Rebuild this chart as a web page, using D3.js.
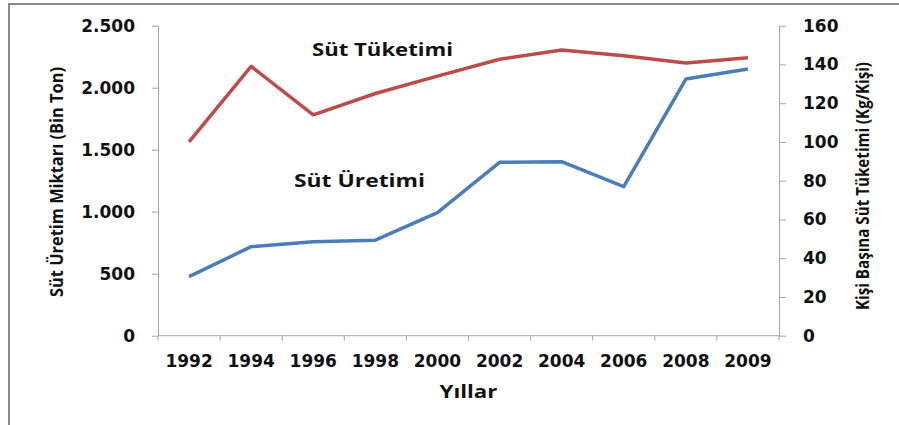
<!DOCTYPE html>
<html>
<head>
<meta charset="utf-8">
<script src="https://d3js.org/d3.v7.min.js"></script>
<style>
  body { margin: 0; background: #fff; }
  .tick text { font-family: "DejaVu Sans", Verdana, sans-serif; font-weight: bold; font-size: 17px; fill: #111; }
  .ttl { font-family: "Open Sans", "DejaVu Sans", sans-serif; font-weight: 700; fill: #111; }
</style>
</head>
<body>
<div id="chart"></div>
<script>
  // data
  var years = ["1992", "1994", "1996", "1998", "2000", "2002", "2004", "2006", "2008", "2009"];
  var uretim = [476, 718, 758, 770, 992, 1398, 1403, 1202, 2070, 2151];   // bin ton, left axis
  var tuketim = [100, 139, 114, 125, 134, 142.7, 147.5, 144.5, 140.8, 143.5]; // kg/kisi, right axis
  var leftTicks = [0, 500, 1000, 1500, 2000, 2500];
  var rightTicks = [0, 20, 40, 60, 80, 100, 120, 140, 160];

  var width = 899, height = 425;
  var m = { left: 158, right: 779, top: 25.7, bottom: 335.7 };

  var svg = d3.select("#chart").append("svg")
    .attr("width", width)
    .attr("height", height);

  // outer frame (cropped on the right and bottom)
  svg.append("rect")
    .attr("x", 9).attr("y", 4)
    .attr("width", 1000).attr("height", 1000)
    .attr("fill", "none")
    .attr("stroke", "#8a8a8a")
    .attr("stroke-width", 2);

  var x = d3.scaleBand().domain(years).range([m.left, m.right]).padding(0);
  var yL = d3.scaleLinear().domain([0, 2500]).range([m.bottom, m.top]);
  var yR = d3.scaleLinear().domain([0, 160]).range([m.bottom, m.top]);

  var trFmt = d3.formatLocale({ decimal: ",", thousands: ".", grouping: [3], currency: ["", ""] }).format(",");

  // left axis
  var gL = svg.append("g")
    .attr("transform", "translate(" + m.left + ",0)")
    .call(d3.axisLeft(yL).tickValues(leftTicks).tickFormat(trFmt).tickSize(6).tickSizeOuter(0).tickPadding(17));

  // right axis
  var gR = svg.append("g")
    .attr("transform", "translate(" + m.right + ",0)")
    .call(d3.axisRight(yR).tickValues(rightTicks).tickSize(7).tickSizeOuter(0).tickPadding(17));

  // bottom axis: labels at category centres, ticks between categories
  var gB = svg.append("g")
    .attr("transform", "translate(0," + m.bottom + ")")
    .call(d3.axisBottom(x).tickSize(0).tickPadding(19));
  gB.select(".domain").remove();

  var edges = d3.range(years.length + 1).map(function (i) { return m.left + i * x.bandwidth(); });
  svg.append("g").selectAll("line").data(edges).join("line")
    .attr("x1", function (d) { return d; }).attr("x2", function (d) { return d; })
    .attr("y1", m.bottom).attr("y2", m.bottom + 5)
    .attr("stroke", "#a6a6a6");
  svg.append("line")
    .attr("x1", m.left).attr("x2", m.right)
    .attr("y1", m.bottom).attr("y2", m.bottom)
    .attr("stroke", "#a6a6a6");

  svg.selectAll(".domain, .tick line").attr("stroke", "#a6a6a6");
  gB.selectAll(".tick text").attr("dy", "0.71em");

  // series
  var cx = function (d, i) { return x(years[i]) + x.bandwidth() / 2; };

  svg.append("path")
    .datum(uretim)
    .attr("fill", "none")
    .attr("stroke", "#4a7ebb")
    .attr("stroke-width", 3.5)
    .attr("stroke-linejoin", "round")
    .attr("d", d3.line().x(cx).y(function (d) { return yL(d); }));

  svg.append("path")
    .datum(tuketim)
    .attr("fill", "none")
    .attr("stroke", "#be4b48")
    .attr("stroke-width", 3.5)
    .attr("stroke-linejoin", "round")
    .attr("d", d3.line().x(cx).y(function (d) { return yR(d); }));

  // series labels
  svg.append("text").attr("class", "ttl")
    .attr("x", 312).attr("y", 56)
    .attr("font-size", 18)
    .attr("textLength", 141).attr("lengthAdjust", "spacingAndGlyphs")
    .text("Süt Tüketimi");

  svg.append("text").attr("class", "ttl")
    .attr("x", 294).attr("y", 187)
    .attr("font-size", 18)
    .attr("textLength", 131).attr("lengthAdjust", "spacingAndGlyphs")
    .text("Süt Üretimi");

  // axis titles
  svg.append("text").attr("class", "ttl")
    .attr("transform", "translate(63,182) rotate(-90)")
    .attr("text-anchor", "middle")
    .attr("font-size", 18)
    .attr("textLength", 230).attr("lengthAdjust", "spacingAndGlyphs")
    .text("Süt Üretim Miktarı (Bin Ton)");

  svg.append("text").attr("class", "ttl")
    .attr("transform", "translate(869,186) rotate(-90)")
    .attr("text-anchor", "middle")
    .attr("font-size", 18)
    .attr("textLength", 248).attr("lengthAdjust", "spacingAndGlyphs")
    .text("Kişi Başına Süt Tüketimi (Kg/Kişi)");

  svg.append("text").attr("class", "ttl")
    .attr("x", (m.left + m.right) / 2).attr("y", 398)
    .attr("text-anchor", "middle")
    .attr("font-size", 18.5)
    .attr("textLength", 58).attr("lengthAdjust", "spacingAndGlyphs")
    .text("Yıllar");
</script>
</body>
</html>
